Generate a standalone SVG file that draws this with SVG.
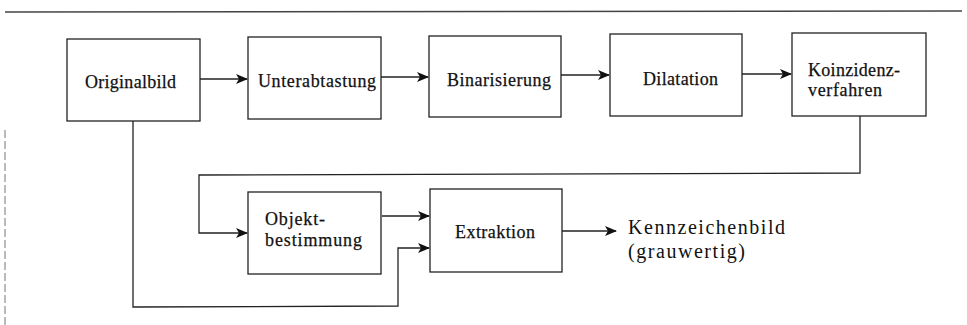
<svg xmlns="http://www.w3.org/2000/svg" width="967" height="325" viewBox="0 0 967 325">
<style>
.box{fill:#fff;stroke:#222;stroke-width:1.3}
.t{font-family:"Liberation Serif","Times New Roman",serif;font-size:18px;fill:#111;stroke:#111;stroke-width:0.25}
.big{font-family:"Liberation Serif","Times New Roman",serif;font-size:20px;fill:#111}
.c{fill:none;stroke:#222;stroke-width:1.3}
</style>
<defs>
<marker id="ah" markerWidth="12" markerHeight="10" refX="11" refY="5" orient="auto" markerUnits="userSpaceOnUse">
<path d="M0,0 L12,5 L0,10 L3,5 z" fill="#111"/>
</marker>
</defs>
<rect width="967" height="325" fill="#fff"/>
<g id="frame">
<line x1="5" y1="12" x2="962" y2="11" stroke="#444" stroke-width="1.5"/>
<line x1="5" y1="130" x2="5" y2="325" stroke="#777" stroke-width="1" stroke-dasharray="8,3"/>
</g>
<g id="connectors">
<line class="c" x1="200" y1="79" x2="247" y2="79" marker-end="url(#ah)"/>
<line class="c" x1="381" y1="77" x2="428" y2="77" marker-end="url(#ah)"/>
<line class="c" x1="561" y1="75" x2="609" y2="75" marker-end="url(#ah)"/>
<line class="c" x1="742" y1="74" x2="791" y2="74" marker-end="url(#ah)"/>
<polyline class="c" points="860,116 860,173 199,175 199,233 247,233" marker-end="url(#ah)"/>
<line class="c" x1="382" y1="216" x2="429" y2="216" marker-end="url(#ah)"/>
<polyline class="c" points="133,121 133,307 398,306 398,248 429,248" marker-end="url(#ah)"/>
<line class="c" x1="562" y1="231" x2="616" y2="231" marker-end="url(#ah)"/>
</g>
<g id="n1"><rect class="box" x="67" y="39" width="133" height="82"/><text class="t" x="130.5" y="88" text-anchor="middle" textLength="91">Originalbild</text></g>
<g id="n2"><rect class="box" x="248" y="37" width="133" height="82"/><text class="t" x="317" y="87" text-anchor="middle" textLength="118">Unterabtastung</text></g>
<g id="n3"><rect class="box" x="429" y="36" width="132" height="81"/><text class="t" x="499" y="86" text-anchor="middle" textLength="104">Binarisierung</text></g>
<g id="n4"><rect class="box" x="610" y="34" width="132" height="82"/><text class="t" x="680.5" y="85" text-anchor="middle" textLength="75">Dilatation</text></g>
<g id="n5"><rect class="box" x="792" y="33" width="134" height="83"/><text class="t" x="808" y="76" textLength="92">Koinzidenz-</text><text class="t" x="808" y="96" textLength="74">verfahren</text></g>
<g id="n6"><rect class="box" x="248" y="192" width="133" height="82"/><text class="t" x="265" y="225" textLength="60">Objekt-</text><text class="t" x="265" y="246" textLength="97">bestimmung</text></g>
<g id="n7"><rect class="box" x="430" y="189" width="132" height="83"/><text class="t" x="495" y="238" text-anchor="middle" textLength="80">Extraktion</text></g>
<g id="out"><text class="big" x="628" y="234" textLength="157">Kennzeichenbild</text><text class="big" x="628" y="258" textLength="117">(grauwertig)</text></g>
</svg>
